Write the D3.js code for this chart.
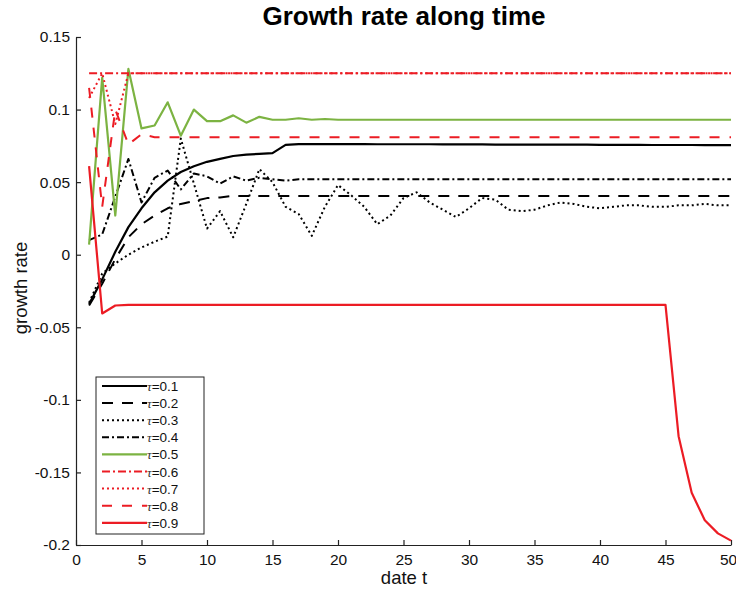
<!DOCTYPE html>
<html><head><meta charset="utf-8">
<script src="https://cdn.jsdelivr.net/npm/d3@7"></script>
<style>body{margin:0;background:#fff;} svg{display:block;font-family:"Liberation Sans",Arial,Helvetica,sans-serif;}</style>
</head><body><svg id="c" width="736" height="592"></svg>
<script>
const dates = [1,2,3,4,5,6,7,8,9,10,11,12,13,14,15,16,17,18,19,20,21,22,23,24,25,26,27,28,29,30,31,32,33,34,35,36,37,38,39,40,41,42,43,44,45,46,47,48,49,50];
const xTicks = [0,5,10,15,20,25,30,35,40,45,50];
const yTicks = [-0.2,-0.15,-0.1,-0.05,0,0.05,0.1,0.15];
const tauLabels = ["0.1","0.2","0.3","0.4","0.5","0.6","0.7","0.8","0.9"];

const tau01 = [-0.034,-0.017,0.002,0.019,0.032,0.043,0.051,0.057,0.061,0.064,0.066,0.068,0.069,0.0695,0.070,0.0757,0.0762,0.0762,0.0762,0.0762,0.0762,0.0762,0.0761,0.0761,0.0761,0.0761,0.0761,0.0760,0.0760,0.0760,0.0760,0.0759,0.0759,0.0759,0.0759,0.0758,0.0758,0.0758,0.0758,0.0757,0.0757,0.0757,0.0757,0.0756,0.0756,0.0756,0.0756,0.0755,0.0755,0.0755];
const tau02 = [-0.035,-0.020,-0.003,0.012,0.021,0.027,0.032,0.035,0.037,0.039,0.0395,0.0405,0.0405,0.0405,0.0405,0.0405,0.0405,0.0405,0.0405,0.0405,0.0405,0.0405,0.0405,0.0405,0.0405,0.0405,0.0405,0.0405,0.0405,0.0405,0.0405,0.0405,0.0405,0.0405,0.0405,0.0405,0.0405,0.0405,0.0405,0.0405,0.0405,0.0405,0.0405,0.0405,0.0405,0.0405,0.0405,0.0405,0.0405,0.0405];
const tau03 = [-0.033,-0.013,-0.006,0.000,0.005,0.009,0.0125,0.080,0.049,0.018,0.030,0.012,0.035,0.059,0.050,0.033,0.028,0.013,0.033,0.048,0.041,0.033,0.021,0.027,0.039,0.043,0.036,0.031,0.026,0.032,0.039,0.038,0.031,0.030,0.031,0.034,0.036,0.035,0.033,0.032,0.033,0.034,0.034,0.033,0.033,0.034,0.034,0.035,0.034,0.034];
const tau04 = [0.010,0.014,0.040,0.066,0.036,0.053,0.058,0.045,0.056,0.054,0.049,0.054,0.051,0.053,0.052,0.051,0.052,0.052,0.052,0.052,0.052,0.052,0.052,0.052,0.052,0.052,0.052,0.052,0.052,0.052,0.052,0.052,0.052,0.052,0.052,0.052,0.052,0.052,0.052,0.052,0.052,0.052,0.052,0.052,0.052,0.052,0.052,0.052,0.052,0.052];
const tau05 = [0.007,0.122,0.027,0.128,0.087,0.089,0.105,0.082,0.100,0.092,0.092,0.096,0.091,0.095,0.093,0.093,0.094,0.093,0.0935,0.093,0.093,0.093,0.093,0.093,0.093,0.093,0.093,0.093,0.093,0.093,0.093,0.093,0.093,0.093,0.093,0.093,0.093,0.093,0.093,0.093,0.093,0.093,0.093,0.093,0.093,0.093,0.093,0.093,0.093,0.093];
const tau06 = [0.125,0.125,0.125,0.125,0.125,0.125,0.125,0.125,0.125,0.125,0.125,0.125,0.125,0.125,0.125,0.125,0.125,0.125,0.125,0.125,0.125,0.125,0.125,0.125,0.125,0.125,0.125,0.125,0.125,0.125,0.125,0.125,0.125,0.125,0.125,0.125,0.125,0.125,0.125,0.125,0.125,0.125,0.125,0.125,0.125,0.125,0.125,0.125,0.125,0.125];
const tau07 = [0.108,0.125,0.090,0.125,0.125,0.125,0.125,0.125,0.125,0.125,0.125,0.125,0.125,0.125,0.125,0.125,0.125,0.125,0.125,0.125,0.125,0.125,0.125,0.125,0.125,0.125,0.125,0.125,0.125,0.125,0.125,0.125,0.125,0.125,0.125,0.125,0.125,0.125,0.125,0.125,0.125,0.125,0.125,0.125,0.125,0.125,0.125,0.125,0.125,0.125];
const tau08 = [0.115,0.033,0.100,0.076,0.083,0.081,0.081,0.081,0.081,0.081,0.081,0.081,0.081,0.081,0.081,0.081,0.081,0.081,0.081,0.081,0.081,0.081,0.081,0.081,0.081,0.081,0.081,0.081,0.081,0.081,0.081,0.081,0.081,0.081,0.081,0.081,0.081,0.081,0.081,0.081,0.081,0.081,0.081,0.081,0.081,0.081,0.081,0.081,0.081,0.081];
const tau09 = [0.061,-0.0405,-0.035,-0.0345,-0.0345,-0.0345,-0.0345,-0.0345,-0.0345,-0.0345,-0.0345,-0.0345,-0.0345,-0.0345,-0.0345,-0.0345,-0.0345,-0.0345,-0.0345,-0.0345,-0.0345,-0.0345,-0.0345,-0.0345,-0.0345,-0.0345,-0.0345,-0.0345,-0.0345,-0.0345,-0.0345,-0.0345,-0.0345,-0.0345,-0.0345,-0.0345,-0.0345,-0.0345,-0.0345,-0.0345,-0.0345,-0.0345,-0.0345,-0.0345,-0.0345,-0.125,-0.164,-0.183,-0.192,-0.197];

const seriesValues = [tau01,tau02,tau03,tau04,tau05,tau06,tau07,tau08,tau09];
const RED = "#ec1c24", GREEN = "#7cb342", BLACK = "#000";
const styles = [
  {c:BLACK, d:null, w:2.2},
  {c:BLACK, d:"11,9", w:2},
  {c:BLACK, d:"2,3", w:2},
  {c:BLACK, d:"7,3,2,3", w:2},
  {c:GREEN, d:null, w:2.2},
  {c:RED, d:"8,3,2,3", w:2},
  {c:RED, d:"2,3", w:2},
  {c:RED, d:"10,10", w:2},
  {c:RED, d:null, w:2.2}
];

const svg = d3.select("#c");
const x = d3.scaleLinear().domain([0,50]).range([76,731]);
const y = d3.scaleLinear().domain([-0.2,0.15]).range([545,37]);
const fmt = d => String(+d.toFixed(2));

// axes
const gx = svg.append("g").attr("transform","translate(0,545)")
  .call(d3.axisBottom(x).tickValues(xTicks).tickSizeInner(-5).tickSizeOuter(0).tickPadding(9).tickFormat(fmt));
const gy = svg.append("g").attr("transform","translate(76,0)")
  .call(d3.axisLeft(y).tickValues(yTicks).tickSizeInner(-5).tickSizeOuter(0).tickPadding(6).tickFormat(fmt));
[gx,gy].forEach(g=>{
  g.select(".domain").attr("stroke","#222").attr("stroke-width",1.2);
  g.selectAll(".tick line").attr("stroke","#222").attr("stroke-width",1.2);
  g.selectAll(".tick text").attr("fill","#111").style("font-size","15.5px").style("font-family","'Liberation Sans',Arial,sans-serif");
});
// keep the last x label inside the canvas
gx.selectAll(".tick text").filter(d=>d===50).attr("dx","-3");

// lines
const line = d3.line().x((d,i)=>x(dates[i])).y(d=>y(d));
seriesValues.forEach((vals,k)=>{
  const s = styles[k];
  svg.append("path").datum(vals).attr("d",line)
    .attr("fill","none").attr("stroke",s.c).attr("stroke-width",s.w)
    .attr("stroke-dasharray",s.d).attr("stroke-linejoin","round");
});

// title and labels
svg.append("text").attr("x",404).attr("y",25).attr("text-anchor","middle")
  .style("font-size","26px").style("font-weight","bold").text("Growth rate along time");
svg.append("text").attr("x",404).attr("y",584).attr("text-anchor","middle")
  .style("font-size","18.5px").attr("fill","#111").text("date t");
svg.append("text").attr("transform","translate(27,288) rotate(-90)").attr("text-anchor","middle")
  .style("font-size","18.5px").attr("fill","#111").text("growth rate");

// legend
const lg = svg.append("g");
lg.append("rect").attr("x",96).attr("y",377).attr("width",108).attr("height",157)
  .attr("fill","#fff").attr("stroke","#222").attr("stroke-width",1);
tauLabels.forEach((lab,i)=>{
  const yy = 386 + i*17.1;
  const s = styles[i];
  lg.append("line").attr("x1",102).attr("x2",147).attr("y1",yy).attr("y2",yy)
    .attr("stroke",s.c).attr("stroke-width",s.w).attr("stroke-dasharray",s.d);
  const t = lg.append("text").attr("x",147).attr("y",yy+5).style("font-size","13.5px").attr("fill","#111");
  t.append("tspan").style("font-family","'Liberation Serif',serif").style("font-style","italic").style("font-size","13px").attr("fill","#333").text("τ");
  t.append("tspan").text("="+lab);
});
</script></body></html>
